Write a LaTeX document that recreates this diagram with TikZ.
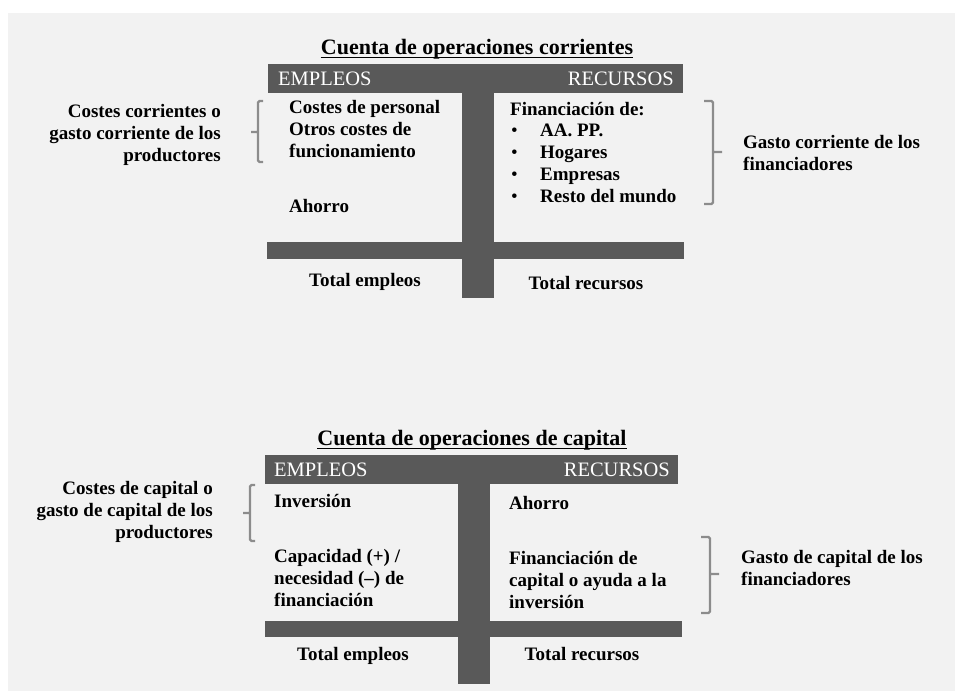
\documentclass[tikz,border=0pt]{standalone}
\usepackage{fontspec}
\setmainfont{Liberation Serif}
\usetikzlibrary{positioning}
\definecolor{barc}{HTML}{595959}
\definecolor{bgc}{HTML}{F2F2F2}
\definecolor{bracec}{HTML}{8C8C8C}
\newcommand*{\bul}{\makebox[30pt][l]{\hspace{1pt}\mdseries\textbullet}}
% square brackets with a tick: {x}{top}{bottom}{tick}
\newcommand*{\bracel}[4]{\draw[brace] (#1+5,#2) -- (#1,#2) -- (#1,#3) -- (#1+5,#3) (#1,#4) -- (#1-7,#4);}
\newcommand*{\bracer}[4]{\draw[brace] (#1-9,#2) -- (#1,#2) -- (#1,#3) -- (#1-9,#3) (#1,#4) -- (#1+9,#4);}

\begin{document}
\begin{tikzpicture}[x=1pt, y=-1pt,
    txt/.style={font=\fontsize{19}{21.75}\selectfont\bfseries, align=left, inner sep=0},
    ttl/.style={font=\fontsize{22}{26}\selectfont\bfseries, inner sep=0, anchor=base},
    head/.style={font=\fontsize{20.5}{24}\selectfont, text=white, inner sep=0},
    uline/.style={line width=1.1pt},
    brace/.style={draw=bracec, line width=2.4pt, rounded corners=1.5pt}]
    \useasboundingbox (0,0) rectangle (955,691);
    % background
    \fill[bgc] (8,13) rectangle (955,691);
    % current account (multi-line nodes sit on their last baseline)
    \node[ttl] (tcur) at (477,54) {Cuenta de operaciones corrientes};
    \draw[uline] ([yshift=-3.5pt]tcur.base west) -- ([yshift=-3.5pt]tcur.base east);
    \fill[barc] (268,64) rectangle (683,93);
    \fill[barc] (462,93) rectangle (494,298);
    \fill[barc] (267,242) rectangle (684,259);
    \node[head, anchor=base west] (empcur) at (278,85) {EMPLEOS};
    \node[head, anchor=base east] (reccur) at (674,85) {RECURSOS};
    \node[txt, anchor=base west] (costcur) at (289,157) {Costes de personal\\Otros costes de\\funcionamiento};
    \node[txt, anchor=base west] (ahocur) at (289,212) {Ahorro};
    \node[txt, anchor=base] (totempcur) at (365,286) {Total empleos};
    \node[txt, anchor=base west] (fincur) at (510,202) {Financiación de:\\\bul AA. PP.\\\bul Hogares\\\bul Empresas\\\bul Resto del mundo};
    \node[txt, anchor=base] (totreccur) at (586,289) {Total recursos};
    \node[txt, align=right, anchor=base east] (prodcur) at (221,161) {Costes corrientes o\\gasto corriente de los\\productores};
    \node[txt, anchor=base west] (fgcur) at (743,170) {Gasto corriente de los\\financiadores};
    \bracel{258}{101}{162}{132}
    \bracer{713}{101}{204}{152}
    % capital account
    \node[ttl] (tcap) at (472,445) {Cuenta de operaciones de capital};
    \draw[uline] ([yshift=-3.5pt]tcap.base west) -- ([yshift=-3.5pt]tcap.base east);
    \fill[barc] (265,455) rectangle (678,484);
    \fill[barc] (458,484) rectangle (490,684);
    \fill[barc] (265,621) rectangle (682,637);
    \node[head, anchor=base west] (empcap) at (274,476) {EMPLEOS};
    \node[head, anchor=base east] (reccap) at (670,476) {RECURSOS};
    \node[txt, anchor=base west] (invcap) at (274,507) {Inversión};
    \node[txt, anchor=base west] (capcap) at (274,606) {Capacidad (+) /\\necesidad (--) de\\financiación};
    \node[txt, anchor=base] (totempcap) at (353,660) {Total empleos};
    \node[txt, anchor=base west] (ahocap) at (509,509) {Ahorro};
    \node[txt, anchor=base west] (fincap) at (509,608) {Financiación de\\capital o ayuda a la\\inversión};
    \node[txt, anchor=base] (totreccap) at (582,660) {Total recursos};
    \node[txt, align=right, anchor=base east] (prodcap) at (213,538) {Costes de capital o\\gasto de capital de los\\productores};
    \node[txt, anchor=base west] (fgcap) at (741,585) {Gasto de capital de los\\financiadores};
    \bracel{250}{485}{541}{513}
    \bracer{710}{537}{613}{574}
\end{tikzpicture}
\end{document}
